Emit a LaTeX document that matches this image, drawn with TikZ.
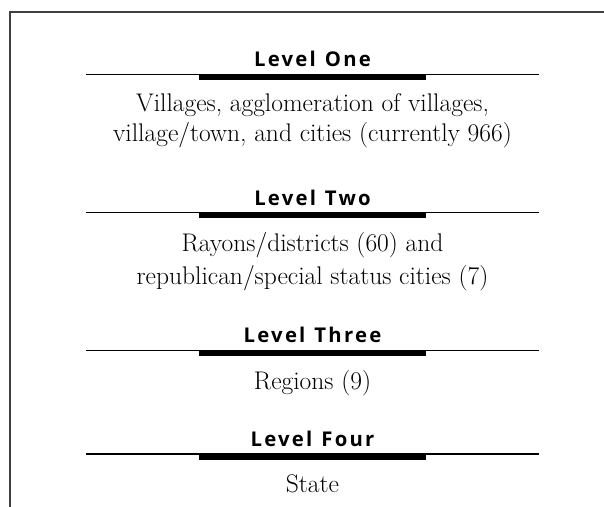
\documentclass[tikz,border=0pt]{standalone}
\usepackage{fontspec}
\newfontfamily\levelfont[LetterSpace=11]{Open Sans}
\newcommand{\lvl}[1]{Level\hspace{9pt}#1}
\tikzset{
  levelhead/.style={font=\levelfont\bfseries\fontsize{20.3}{21}\selectfont, anchor=base, inner sep=0pt},
  levelbody/.style={font=\fontsize{25.5}{31}\selectfont, anchor=base, inner sep=0pt, align=center},
  thinrule/.style={line width=1.2pt},
  thickbar/.style={fill=black},
  frame/.style={draw=black!75, line width=2pt}
}
\begin{document}
\begin{tikzpicture}[x=1pt, y=-1pt]
  \useasboundingbox (0,0) rectangle (604,506);
  \draw[frame] (10,507) -- (10,12) -- (605,12);
  % level one
  \node[levelhead] (h1) at (312.5,66) {\lvl{One}};
  \draw[thinrule] (86,74.3) -- (539,74.3);
  \fill[thickbar] (199,73.7) rectangle (426,79.8);
  \node[levelbody] (b1) at (312.5,141) {Villages, agglomeration of villages,\\[-1pt] village/town, and cities (currently 966)};
  % level two
  \node[levelhead] (h2) at (312.5,205) {\lvl{Two}};
  \draw[thinrule] (86,212.7) -- (539,212.7);
  \fill[thickbar] (199,212.1) rectangle (426,218.2);
  \node[levelbody] (b2) at (312.5,284.5) {Rayons/districts (60) and\\[2pt] republican/special status cities (7)};
  % level three
  \node[levelhead] (h3) at (312.5,342) {\lvl{Three}};
  \draw[thinrule] (86,350.7) -- (539,350.7);
  \fill[thickbar] (199,350.1) rectangle (426,356.2);
  \node[levelbody] (b3) at (312.5,389) {Regions (9)};
  % level four
  \node[levelhead] (h4) at (312.5,446) {\lvl{Four}};
  \draw[thinrule] (86,454) -- (539,454);
  \fill[thickbar] (199,453.4) rectangle (426,459.5);
  \node[levelbody] (b4) at (312.5,492.7) {State};
\end{tikzpicture}
\end{document}
